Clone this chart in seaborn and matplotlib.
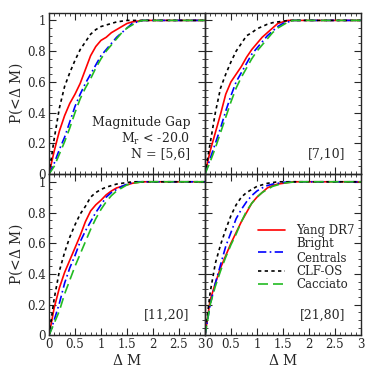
import numpy as np
import pandas as pd
import matplotlib
matplotlib.use("Agg")
import matplotlib.pyplot as plt
from matplotlib.ticker import MultipleLocator
from matplotlib.lines import Line2D
import seaborn as sns

# Cumulative distributions of the magnitude gap
dm = [0, 0.1, 0.2, 0.3, 0.4, 0.5, 0.6, 0.7, 0.8, 0.9, 1.0, 1.1, 1.2, 1.3, 1.4, 1.5, 1.6, 1.7, 1.8, 2.0, 3.0]

bins = ["[5,6]", "[7,10]", "[11,20]", "[21,80]"]
series = ["Yang DR7", "Bright\nCentrals", "CLF-OS", "Cacciato"]

yang = {
    "[5,6]":   [0, 0.15, 0.28, 0.38, 0.46, 0.52, 0.59, 0.68, 0.77, 0.83, 0.87, 0.89, 0.92, 0.94, 0.96, 0.98, 0.99, 0.995, 1, 1, 1],
    "[7,10]":  [0, 0.15, 0.27, 0.39, 0.52, 0.60, 0.65, 0.70, 0.76, 0.81, 0.85, 0.89, 0.92, 0.95, 0.98, 0.99, 1, 1, 1, 1, 1],
    "[11,20]": [0, 0.18, 0.31, 0.41, 0.49, 0.57, 0.65, 0.74, 0.81, 0.85, 0.88, 0.915, 0.94, 0.96, 0.97, 0.98, 0.99, 0.995, 1, 1, 1],
    "[21,80]": [0, 0.23, 0.34, 0.44, 0.52, 0.60, 0.67, 0.74, 0.80, 0.86, 0.90, 0.93, 0.96, 0.975, 0.985, 0.99, 0.995, 1, 1, 1, 1],
}
bright = {
    "[5,6]":   [0, 0.07, 0.16, 0.24, 0.34, 0.44, 0.52, 0.59, 0.65, 0.71, 0.77, 0.81, 0.85, 0.89, 0.92, 0.95, 0.98, 0.99, 1, 1, 1],
    "[7,10]":  [0, 0.10, 0.20, 0.30, 0.41, 0.51, 0.60, 0.66, 0.72, 0.78, 0.82, 0.86, 0.90, 0.93, 0.96, 0.98, 0.99, 1, 1, 1, 1],
    "[11,20]": [0, 0.10, 0.21, 0.34, 0.44, 0.52, 0.61, 0.68, 0.74, 0.80, 0.85, 0.90, 0.93, 0.95, 0.97, 0.985, 0.995, 1, 1, 1, 1],
    "[21,80]": [0, 0.20, 0.34, 0.46, 0.58, 0.67, 0.76, 0.82, 0.87, 0.91, 0.94, 0.96, 0.975, 0.985, 0.99, 0.995, 1, 1, 1, 1, 1],
}
clf_os = {
    "[5,6]":   [0, 0.23, 0.43, 0.57, 0.66, 0.74, 0.81, 0.86, 0.91, 0.94, 0.96, 0.97, 0.98, 0.99, 0.995, 1, 1, 1, 1, 1, 1],
    "[7,10]":  [0, 0.20, 0.40, 0.56, 0.65, 0.73, 0.80, 0.85, 0.90, 0.92, 0.945, 0.96, 0.975, 0.985, 0.99, 0.995, 1, 1, 1, 1, 1],
    "[11,20]": [0, 0.24, 0.42, 0.54, 0.64, 0.72, 0.79, 0.84, 0.90, 0.93, 0.95, 0.965, 0.975, 0.985, 0.99, 0.995, 1, 1, 1, 1, 1],
    "[21,80]": [0, 0.28, 0.47, 0.59, 0.69, 0.78, 0.85, 0.90, 0.93, 0.95, 0.97, 0.98, 0.99, 0.995, 1, 1, 1, 1, 1, 1, 1],
}
cacciato = {
    "[5,6]":   [0, 0.05, 0.13, 0.21, 0.30, 0.40, 0.49, 0.56, 0.62, 0.69, 0.75, 0.80, 0.84, 0.88, 0.92, 0.95, 0.97, 0.99, 1, 1, 1],
    "[7,10]":  [0, 0.08, 0.17, 0.27, 0.37, 0.47, 0.56, 0.63, 0.69, 0.75, 0.80, 0.84, 0.88, 0.92, 0.95, 0.97, 0.99, 1, 1, 1, 1],
    "[11,20]": [0, 0.08, 0.16, 0.27, 0.36, 0.45, 0.53, 0.61, 0.69, 0.76, 0.82, 0.87, 0.91, 0.94, 0.96, 0.98, 0.99, 0.995, 1, 1, 1],
    "[21,80]": [0, 0.20, 0.32, 0.42, 0.51, 0.59, 0.66, 0.74, 0.81, 0.86, 0.90, 0.93, 0.95, 0.97, 0.98, 0.99, 0.995, 0.998, 1, 1, 1],
}

xticks = [0, 0.5, 1, 1.5, 2, 2.5, 3]
xticklabels = ["0", "0.5", "1", "1.5", "2", "2.5", "3"]
yticks = [0, 0.2, 0.4, 0.6, 0.8, 1]
yticklabels = ["0", "0.2", "0.4", "0.6", "0.8", "1"]

colors = {"Yang DR7": "red", "Bright\nCentrals": "blue", "CLF-OS": "black", "Cacciato": "#22bb22"}
dashes = {"Yang DR7": "", "Bright\nCentrals": (5, 2, 1, 2), "CLF-OS": (2, 2), "Cacciato": (6, 3)}

# long table for seaborn
rows = []
for b in bins:
    for name, src in zip(series, [yang, bright, clf_os, cacciato]):
        for x, p in zip(dm, src[b]):
            rows.append({"bin": b, "series": name, "dM": x, "P": p})
df = pd.DataFrame(rows)

sns.set_theme(style="ticks")
plt.rcParams["font.family"] = ["DejaVu Serif"]
plt.rcParams["mathtext.fontset"] = "dejavuserif"

fig, axes = plt.subplots(2, 2, figsize=(3.74, 3.74), dpi=100)
fig.subplots_adjust(left=0.131, right=0.965, bottom=0.103, top=0.966, wspace=0, hspace=0)

for ax, b in zip(axes.flat, bins):
    sub = df[df["bin"] == b]
    sns.lineplot(data=sub, x="dM", y="P", hue="series", style="series",
                 hue_order=series, style_order=series, palette=colors,
                 dashes=dashes, linewidth=1.2, ax=ax, legend=False)
    ax.patch.set_alpha(0)
    ax.set_xlim(0, 3)
    ax.set_ylim(0, 1.05)
    ax.set_xticks(xticks, xticklabels)
    ax.set_yticks(yticks, yticklabels)
    ax.xaxis.set_minor_locator(MultipleLocator(0.1))
    ax.yaxis.set_minor_locator(MultipleLocator(0.05))
    ax.tick_params(which="both", direction="in", top=True, right=True, labelsize=8.5, pad=2)
    ax.tick_params(which="major", length=5, width=0.8)
    ax.tick_params(which="minor", length=2.5, width=0.6)
    for s in ax.spines.values():
        s.set_linewidth(1.0)
    ax.set_xlabel("")
    ax.set_ylabel("")
    if b != "[5,6]":
        ax.text(0.9, 0.085, b, transform=ax.transAxes, ha="right", va="bottom", fontsize=9)

for ax in axes[0, :]:
    ax.tick_params(labelbottom=False)
for ax in axes[:, 1]:
    ax.tick_params(labelleft=False)
for ax in axes[:, 0]:
    ax.set_ylabel(r"P(<$\Delta$ M)", fontsize=10, labelpad=2)
for ax in axes[1, :]:
    ax.set_xlabel(r"$\Delta$ M", fontsize=10, labelpad=1)

# "3" of the left panel and "0" of the right panel sit side by side at the shared edge
axes[1, 0].get_xticklabels()[-1].set_horizontalalignment("right")
axes[1, 1].get_xticklabels()[0].set_horizontalalignment("left")

axes[0, 0].text(0.905, 0.08, "Magnitude Gap\n" + r"M$_{\rm r}$ < -20.0" + "\nN = [5,6]",
                transform=axes[0, 0].transAxes, ha="right", va="bottom",
                fontsize=9, linespacing=1.15, multialignment="right")

handles = [Line2D([], [], color=colors[s], linestyle="-" if dashes[s] == "" else (0, dashes[s]), lw=1.2)
           for s in series]
axes[1, 1].legend(handles, series, loc="upper left", bbox_to_anchor=(0.337, 0.69), frameon=False,
                  fontsize=8.5, handlelength=2.3, handletextpad=1.0, labelspacing=0.0,
                  borderaxespad=0, borderpad=0)

fig.savefig("out.png", dpi=100)
